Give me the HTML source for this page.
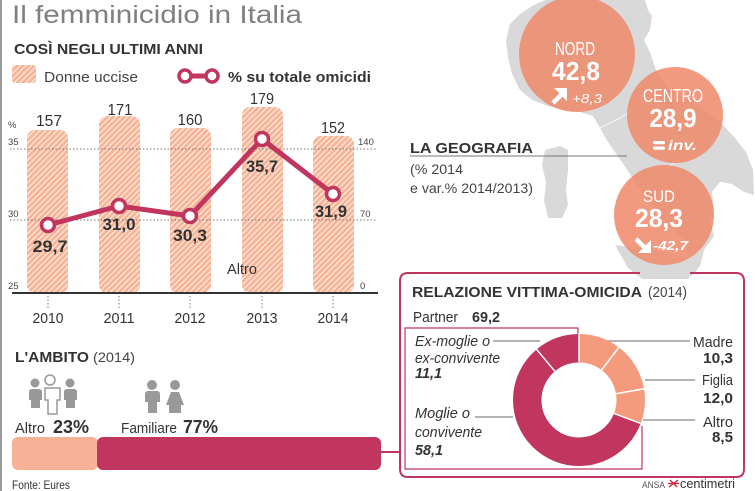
<!DOCTYPE html>
<html><head><meta charset="utf-8"><style>
html,body{margin:0;padding:0;background:#fff;}
svg{display:block;font-family:"Liberation Sans",sans-serif;}
</style></head><body>
<svg width="755" height="491" viewBox="0 0 755 491" xmlns="http://www.w3.org/2000/svg">
<defs>
<pattern id="hatch" width="4" height="4" patternUnits="userSpaceOnUse" patternTransform="rotate(45)">
<rect width="4" height="4" fill="#f6b395"/>
<rect x="0" y="0" width="1.3" height="4" fill="#fde9df"/>
</pattern>
</defs>
<rect width="755" height="491" fill="#fff"/>
<rect x="0" y="0" width="2" height="491" fill="#9a9a9a"/>

<!-- MAP -->
<g fill="#d9d9d9">
<path d="M506,40 L510,24 L520,14 L532,6 L545,0 L645,0 L648,10 L652,16 L650,30 L644,40 L650,52 L656,70 L668,88 L688,100 L708,112 L722,124 L735,138 L746,152 L753,170 L754,195 L744,192 L732,184 L720,182 L712,192 L714,208 L710,222 L714,236 L704,250 L700,266 L692,276 L684,270 L688,256 L686,242 L674,230 L664,220 L655,208 L645,195 L635,182 L626,168 L617,155 L608,142 L600,128 L593,116 L580,112 L565,110 L548,106 L532,100 L520,90 L512,74 L508,58 Z"/>
<path d="M615,245 L650,250 L690,258 L695,270 L688,279 L642,279 L628,268 Z"/>
<path d="M545,150 L560,146 L568,150 L568,170 L566,190 L568,205 L562,218 L548,218 L544,200 L546,182 L542,165 Z"/>
</g>
<g fill="none" stroke="#fff" stroke-width="1" opacity="0.8">
<path d="M600,128 L620,118 L640,105 L660,90"/>
<path d="M640,196 L665,170 L690,150 L712,140"/>
<path d="M690,258 L700,235 L712,215"/>
</g>
<g fill="#ef8a6c" opacity="0.86">
<circle cx="577" cy="54" r="58"/>
<circle cx="675" cy="115" r="48"/>
<circle cx="664" cy="215" r="50"/>
</g>
<g fill="#fff">
<text x="575" y="55" font-size="18" text-anchor="middle" textLength="40" lengthAdjust="spacingAndGlyphs">NORD</text>
<text x="576" y="80" font-size="26" font-weight="bold" text-anchor="middle" textLength="48" lengthAdjust="spacingAndGlyphs">42,8</text>
<text x="572" y="103" font-size="13" font-style="italic" textLength="30" lengthAdjust="spacingAndGlyphs">+8,3</text>
<text x="673" y="102" font-size="18" text-anchor="middle" textLength="60" lengthAdjust="spacingAndGlyphs">CENTRO</text>
<text x="673" y="127" font-size="26" font-weight="bold" text-anchor="middle" textLength="47" lengthAdjust="spacingAndGlyphs">28,9</text>
<rect x="653" y="141" width="12" height="3.2" rx="1.5"/>
<rect x="653" y="146.5" width="12" height="3.2" rx="1.5"/>
<text x="668" y="150" font-size="14" font-weight="bold" font-style="italic" textLength="29" lengthAdjust="spacingAndGlyphs">inv.</text>
<text x="659" y="202" font-size="17" text-anchor="middle" textLength="32" lengthAdjust="spacingAndGlyphs">SUD</text>
<text x="659" y="227" font-size="26" font-weight="bold" text-anchor="middle" textLength="48" lengthAdjust="spacingAndGlyphs">28,3</text>
<text x="653" y="250" font-size="13" font-weight="bold" font-style="italic" textLength="35" lengthAdjust="spacingAndGlyphs">-42,7</text>
<polygon points="567,88 567,101 554,88"/>
<polygon points="651,253 651,240 638,253"/>
</g>
<line x1="553" y1="103" x2="563" y2="93" stroke="#fff" stroke-width="4.5"/>
<line x1="636" y1="239" x2="646" y2="249" stroke="#fff" stroke-width="4.5"/>

<!-- LA GEOGRAFIA -->
<text x="410" y="153" font-size="15" font-weight="bold" fill="#333" textLength="123" lengthAdjust="spacingAndGlyphs">LA GEOGRAFIA</text>
<line x1="410" y1="156" x2="627" y2="156" stroke="#777" stroke-width="1"/>
<text x="410" y="174" font-size="13.5" fill="#444" textLength="53" lengthAdjust="spacingAndGlyphs">(% 2014</text>
<text x="410" y="193" font-size="13.5" fill="#444" textLength="123" lengthAdjust="spacingAndGlyphs">e var.% 2014/2013)</text>

<!-- TITLE -->
<text x="12" y="23" font-size="25" fill="#808080" textLength="290" lengthAdjust="spacingAndGlyphs">Il femminicidio in Italia</text>
<text x="14" y="54" font-size="15" font-weight="bold" fill="#333" textLength="189" lengthAdjust="spacingAndGlyphs">COSÌ NEGLI ULTIMI ANNI</text>

<!-- LEGEND -->
<rect x="12" y="65" width="24" height="18" rx="3" fill="url(#hatch)"/>
<text x="44" y="82" font-size="15" fill="#444" textLength="94" lengthAdjust="spacingAndGlyphs">Donne uccise</text>
<line x1="185" y1="76" x2="212" y2="76" stroke="#c0365f" stroke-width="5"/>
<circle cx="185" cy="76" r="6" fill="#fff" stroke="#c0365f" stroke-width="3.5"/>
<circle cx="212" cy="76" r="6" fill="#fff" stroke="#c0365f" stroke-width="3.5"/>
<text x="228" y="82" font-size="15" font-weight="bold" fill="#333" textLength="143" lengthAdjust="spacingAndGlyphs">% su totale omicidi</text>

<!-- BARS -->
<g fill="url(#hatch)">
<rect x="27" y="130" width="41" height="163" rx="8"/>
<rect x="99" y="116" width="41" height="177" rx="8"/>
<rect x="170" y="128" width="41" height="165" rx="8"/>
<rect x="242" y="107" width="41" height="186" rx="8"/>
<rect x="313" y="136" width="41" height="157" rx="8"/>
</g>
<g stroke="#777" stroke-width="1" stroke-dasharray="1.5 2">
<line x1="10" y1="149" x2="377" y2="149"/>
<line x1="10" y1="220" x2="377" y2="220"/>
<line x1="48" y1="296" x2="48" y2="308"/>
<line x1="119" y1="296" x2="119" y2="308"/>
<line x1="190" y1="296" x2="190" y2="308"/>
<line x1="262" y1="296" x2="262" y2="308"/>
<line x1="333" y1="296" x2="333" y2="308"/>
</g>
<line x1="12" y1="293" x2="378" y2="293" stroke="#333" stroke-width="2"/>
<g font-size="9.5" fill="#444">
<text x="8" y="128">%</text>
<text x="8" y="145">35</text>
<text x="8" y="217">30</text>
<text x="8" y="289">25</text>
<text x="358" y="145">140</text>
<text x="360" y="217">70</text>
<text x="360" y="289">0</text>
</g>
<path d="M48,225 L119,206 L190,216 L262,139 L333,194" fill="none" stroke="#c0365f" stroke-width="5" stroke-linejoin="round"/>
<g fill="#fff" stroke="#c0365f" stroke-width="3.5">
<circle cx="48" cy="225" r="6.5"/>
<circle cx="119" cy="206" r="6.5"/>
<circle cx="190" cy="216" r="6.5"/>
<circle cx="262" cy="139" r="6.5"/>
<circle cx="333" cy="194" r="6.5"/>
</g>
<g font-size="16" fill="#333" text-anchor="middle">
<text x="49" y="126" textLength="26" lengthAdjust="spacingAndGlyphs">157</text>
<text x="120" y="115" textLength="25" lengthAdjust="spacingAndGlyphs">171</text>
<text x="190" y="125" textLength="25" lengthAdjust="spacingAndGlyphs">160</text>
<text x="262" y="104" textLength="24" lengthAdjust="spacingAndGlyphs">179</text>
<text x="333" y="133" textLength="24" lengthAdjust="spacingAndGlyphs">152</text>
</g>
<g font-size="17" font-weight="bold" fill="#333" text-anchor="middle">
<text x="50" y="252" textLength="35" lengthAdjust="spacingAndGlyphs">29,7</text>
<text x="119" y="230" textLength="33" lengthAdjust="spacingAndGlyphs">31,0</text>
<text x="190" y="241" textLength="34" lengthAdjust="spacingAndGlyphs">30,3</text>
<text x="262" y="172" textLength="32" lengthAdjust="spacingAndGlyphs">35,7</text>
<text x="331" y="217" textLength="32" lengthAdjust="spacingAndGlyphs">31,9</text>
</g>
<text x="227" y="274" font-size="15" fill="#333" textLength="30" lengthAdjust="spacingAndGlyphs">Altro</text>
<g font-size="15" fill="#333" text-anchor="middle">
<text x="48" y="323" textLength="31" lengthAdjust="spacingAndGlyphs">2010</text>
<text x="119" y="323" textLength="31" lengthAdjust="spacingAndGlyphs">2011</text>
<text x="190" y="323" textLength="31" lengthAdjust="spacingAndGlyphs">2012</text>
<text x="262" y="323" textLength="31" lengthAdjust="spacingAndGlyphs">2013</text>
<text x="333" y="323" textLength="31" lengthAdjust="spacingAndGlyphs">2014</text>
</g>

<!-- AMBITO -->
<text x="15" y="362" font-size="15" font-weight="bold" fill="#333" textLength="74" lengthAdjust="spacingAndGlyphs">L'AMBITO</text>
<text x="93" y="362" font-size="14" fill="#444" textLength="42" lengthAdjust="spacingAndGlyphs">(2014)</text>
<g fill="#999">
<circle cx="35" cy="383" r="4.5"/>
<path d="M29,392 Q29,389 32,389 H39 Q42,389 42,392 V400 H40 V408 H31 V400 H29 Z"/>
<circle cx="70" cy="383" r="4.5"/>
<path d="M64,392 Q64,389 67,389 H74 Q77,389 77,392 V400 H75 V408 H66 V400 H64 Z"/>
<circle cx="152" cy="385" r="5"/>
<path d="M145,394 Q145,391 148,391 H157 Q160,391 160,394 V402 H157 V413 H148 V402 H145 Z"/>
<circle cx="175" cy="385" r="5"/>
<path d="M171,392 H179 L184,405 H181 V413 H169 V405 H166 Z"/>
</g>
<circle cx="50" cy="380" r="5" fill="#fff" stroke="#999" stroke-width="1.5"/>
<path d="M45,388 H60 V400 H57 V414 H48 V400 H45 Z" fill="#fff" stroke="#999" stroke-width="1.5"/>
<text x="15" y="433" font-size="15" fill="#333" textLength="30" lengthAdjust="spacingAndGlyphs">Altro</text>
<text x="53" y="433" font-size="18" font-weight="bold" fill="#333" textLength="36" lengthAdjust="spacingAndGlyphs">23%</text>
<text x="121" y="433" font-size="15" fill="#333" textLength="56" lengthAdjust="spacingAndGlyphs">Familiare</text>
<text x="183" y="433" font-size="18" font-weight="bold" fill="#333" textLength="35" lengthAdjust="spacingAndGlyphs">77%</text>
<rect x="12" y="437" width="86" height="33" rx="6" fill="#f6b196"/>
<rect x="97" y="437" width="284" height="33" rx="6" fill="#c0365f"/>
<line x1="380" y1="452" x2="401" y2="452" stroke="#c0365f" stroke-width="2"/>
<text x="12" y="489" font-size="12" fill="#333" textLength="58" lengthAdjust="spacingAndGlyphs">Fonte: Eures</text>

<!-- RELAZIONE -->
<path d="M640,273 H408 Q400,273 400,281 V469 Q400,477 408,477 H736 Q744,477 744,469 V281 Q744,273 736,273 H690" fill="none" stroke="#c0365f" stroke-width="2"/>
<path d="M578,334 V328 H405 V469 H642 V426" fill="none" stroke="#c0365f" stroke-width="1.2"/>
<text x="412" y="297" font-size="15" font-weight="bold" fill="#333" textLength="230" lengthAdjust="spacingAndGlyphs">RELAZIONE VITTIMA-OMICIDA</text>
<text x="648" y="297" font-size="14.5" fill="#444" textLength="39" lengthAdjust="spacingAndGlyphs">(2014)</text>
<text x="413" y="322" font-size="15" fill="#333" textLength="45" lengthAdjust="spacingAndGlyphs">Partner</text>
<text x="472" y="322" font-size="15" font-weight="bold" fill="#333" textLength="28" lengthAdjust="spacingAndGlyphs">69,2</text>

<g fill="none" stroke="#888" stroke-width="1.2">
<line x1="493" y1="341" x2="540" y2="341"/>
<line x1="475" y1="417" x2="513" y2="417"/>
<line x1="600" y1="341" x2="690" y2="341"/>
<line x1="645" y1="380" x2="695" y2="380"/>
<line x1="643" y1="420" x2="695" y2="420"/>
</g>
<g transform="rotate(-90 579 400)" fill="none" stroke-width="28.5">
<circle cx="579" cy="400" r="51.75" stroke="#f59b7d" stroke-dasharray="33.49 400" stroke-dashoffset="0"/>
<circle cx="579" cy="400" r="51.75" stroke="#f59b7d" stroke-dasharray="39.02 400" stroke-dashoffset="-33.49"/>
<circle cx="579" cy="400" r="51.75" stroke="#f59b7d" stroke-dasharray="27.64 400" stroke-dashoffset="-72.51"/>
<circle cx="579" cy="400" r="51.75" stroke="#c0365f" stroke-dasharray="188.91 400" stroke-dashoffset="-100.15"/>
<circle cx="579" cy="400" r="51.75" stroke="#c0365f" stroke-dasharray="36.09 400" stroke-dashoffset="-289.06"/>
</g>
<g stroke="#fff" stroke-width="1.5">
<line x1="579" y1="362" x2="579" y2="333"/>
<line x1="601.6" y1="370.1" x2="618.8" y2="347.3"/>
<line x1="616" y1="393.7" x2="644.5" y2="388.8"/>
<line x1="614" y1="413.4" x2="641" y2="423.6"/>
<line x1="554.9" y1="371.3" x2="536.4" y2="349.2"/>
</g>
<g font-size="15" fill="#333" font-style="italic">
<text x="415" y="346" textLength="75" lengthAdjust="spacingAndGlyphs">Ex-moglie o</text>
<text x="415" y="363" textLength="85" lengthAdjust="spacingAndGlyphs">ex-convivente</text>
<text x="415" y="378" font-weight="bold" textLength="27" lengthAdjust="spacingAndGlyphs">11,1</text>
<text x="415" y="418" textLength="55" lengthAdjust="spacingAndGlyphs">Moglie o</text>
<text x="415" y="437" textLength="67" lengthAdjust="spacingAndGlyphs">convivente</text>
<text x="415" y="455" font-weight="bold" textLength="28" lengthAdjust="spacingAndGlyphs">58,1</text>
</g>
<g font-size="15" fill="#333" text-anchor="end">
<text x="733" y="347" textLength="40" lengthAdjust="spacingAndGlyphs">Madre</text>
<text x="733" y="363" font-weight="bold" textLength="30" lengthAdjust="spacingAndGlyphs">10,3</text>
<text x="733" y="385" textLength="31" lengthAdjust="spacingAndGlyphs">Figlia</text>
<text x="733" y="403" font-weight="bold" textLength="30" lengthAdjust="spacingAndGlyphs">12,0</text>
<text x="733" y="427" textLength="30" lengthAdjust="spacingAndGlyphs">Altro</text>
<text x="733" y="442" font-weight="bold" textLength="21" lengthAdjust="spacingAndGlyphs">8,5</text>
</g>

<!-- LOGO -->
<text x="642" y="488" font-size="9.5" fill="#555" textLength="23" lengthAdjust="spacingAndGlyphs">ANSA</text>
<path d="M670,480 L677,487 M678,480 L669,487 M668,483.5 H679" stroke="#d0223a" stroke-width="1.3"/>
<text x="680" y="488" font-size="12.5" fill="#333" textLength="55" lengthAdjust="spacingAndGlyphs">centimetri</text>
</svg>
</body></html>
